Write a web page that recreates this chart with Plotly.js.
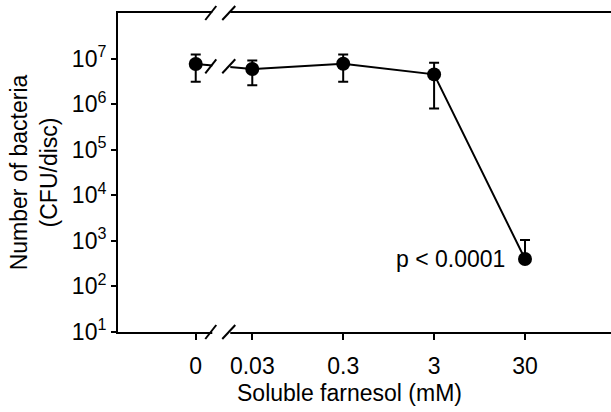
<!DOCTYPE html>
<html>
<head>
<meta charset="utf-8">
<script src="https://cdn.plot.ly/plotly-3.0.1.min.js"></script>
<style>html,body{margin:0;padding:0;background:#fff;overflow:hidden}</style>
</head>
<body>
<div id="chart" style="width:611px;height:412px"></div>
<script>
// ---- data ----
const doses = [0, 0.03, 0.3, 3, 30];
const doseLabels = ["0", "0.03", "0.3", "3", "30"];
const cfu = [7.6e6, 5.9e6, 7.7e6, 4.5e6, 4.0e2];
const cfuUpper = [1.23e7, 9.1e6, 1.23e7, 8.1e6, 1.05e3];
const cfuLower = [3.1e6, 2.6e6, 3.1e6, 8.0e5, 4.0e2];
const yTickVals = [1e1, 1e2, 1e3, 1e4, 1e5, 1e6, 1e7];
const yTickText = ["10<sup>1</sup>", "10<sup>2</sup>", "10<sup>3</sup>", "10<sup>4</sup>", "10<sup>5</sup>", "10<sup>6</sup>", "10<sup>7</sup>"];
const pLabel = "p < 0.0001";

// ---- layout helpers (axis with a break: zero placed left of the log scale) ----
const zeroPos = -2.145;            // where the "0" category sits on the log10 scale
const xRange = [-3, 2.423];
const yRange = [1, 8];
const xPos = doses.map(d => d > 0 ? Math.log10(d) : zeroPos);
const errPlus = cfu.map((v, i) => cfuUpper[i] - v);
const errMinus = cfu.map((v, i) => v - cfuLower[i]);

const breakX = (xPos[0] + xPos[1]) / 2 - 0.03;
const breakPaperX = (breakX - xRange[0]) / (xRange[1] - xRange[0]);
const f = (breakX - xPos[0]) / (xPos[1] - xPos[0]);
const breakLogY = Math.log10(cfu[0]) + f * (Math.log10(cfu[1]) - Math.log10(cfu[0]));
const breakPaperYLine = (breakLogY - yRange[0]) / (yRange[1] - yRange[0]);

function breakShapes(py) {
  const common = {xref: 'paper', yref: 'paper', xsizemode: 'pixel', ysizemode: 'pixel',
                  xanchor: breakPaperX, yanchor: py, layer: 'above'};
  return [
    Object.assign({type: 'rect', x0: -9, x1: 9, y0: -5, y1: 5,
                   fillcolor: '#ffffff', line: {width: 0}}, common),
    Object.assign({type: 'line', x0: -16, x1: -5, y0: -7, y1: 7,
                   line: {color: '#000', width: 2}}, common),
    Object.assign({type: 'line', x0: 1, x1: 14, y0: -7, y1: 7,
                   line: {color: '#000', width: 2}}, common)
  ];
}

const font = "Liberation Sans, Arial, Helvetica, sans-serif";

const trace = {
  x: xPos,
  y: cfu,
  type: 'scatter',
  mode: 'lines+markers',
  line: {color: '#000', width: 2},
  marker: {color: '#000', size: 14},
  error_y: {type: 'data', symmetric: false, array: errPlus, arrayminus: errMinus,
            color: '#000', thickness: 2, width: 5},
  cliponaxis: false,
  showlegend: false,
  hoverinfo: 'none'
};

const layout = {
  width: 611, height: 412,
  margin: {l: 118, r: 0, t: 13, b: 80},
  paper_bgcolor: '#fff', plot_bgcolor: '#fff',
  font: {family: font, color: '#000', size: 23},
  xaxis: {
    type: 'linear', range: xRange, tickmode: 'array', tickvals: xPos, ticktext: doseLabels,
    ticks: 'outside', ticklen: 6, tickwidth: 2, tickcolor: '#000', ticklabelstandoff: 6,
    showline: true, linewidth: 2, linecolor: '#000', mirror: true,
    showgrid: false, zeroline: false, tickfont: {size: 23, family: font, color: '#000'}
  },
  yaxis: {
    type: 'log', range: yRange, tickmode: 'array', tickvals: yTickVals, ticktext: yTickText,
    ticks: 'outside', ticklen: 5, tickwidth: 2, tickcolor: '#000',
    showline: true, linewidth: 2, linecolor: '#000',
    showgrid: false, zeroline: false, tickfont: {size: 23, family: font, color: '#000'},
    title: {text: 'Number of bacteria<br>(CFU/disc)', font: {size: 23, family: font, color: '#000'}, standoff: 8}
  },
  annotations: [
    {x: xPos[4], y: Math.log10(cfu[4]), xref: 'x', yref: 'y', text: pLabel, showarrow: false,
     xanchor: 'right', yanchor: 'middle', xshift: -18, font: {size: 23, family: font, color: '#000'}},
    {x: 0.4686, y: -0.191, xref: 'paper', yref: 'paper', text: 'Soluble farnesol (mM)', showarrow: false,
     xanchor: 'center', yanchor: 'middle', font: {size: 23, family: font, color: '#000'}}
  ],
  shapes: [].concat(breakShapes(0), breakShapes(1), breakShapes(breakPaperYLine))
};

Plotly.newPlot('chart', [trace], layout, {displayModeBar: false});
</script>
</body>
</html>
